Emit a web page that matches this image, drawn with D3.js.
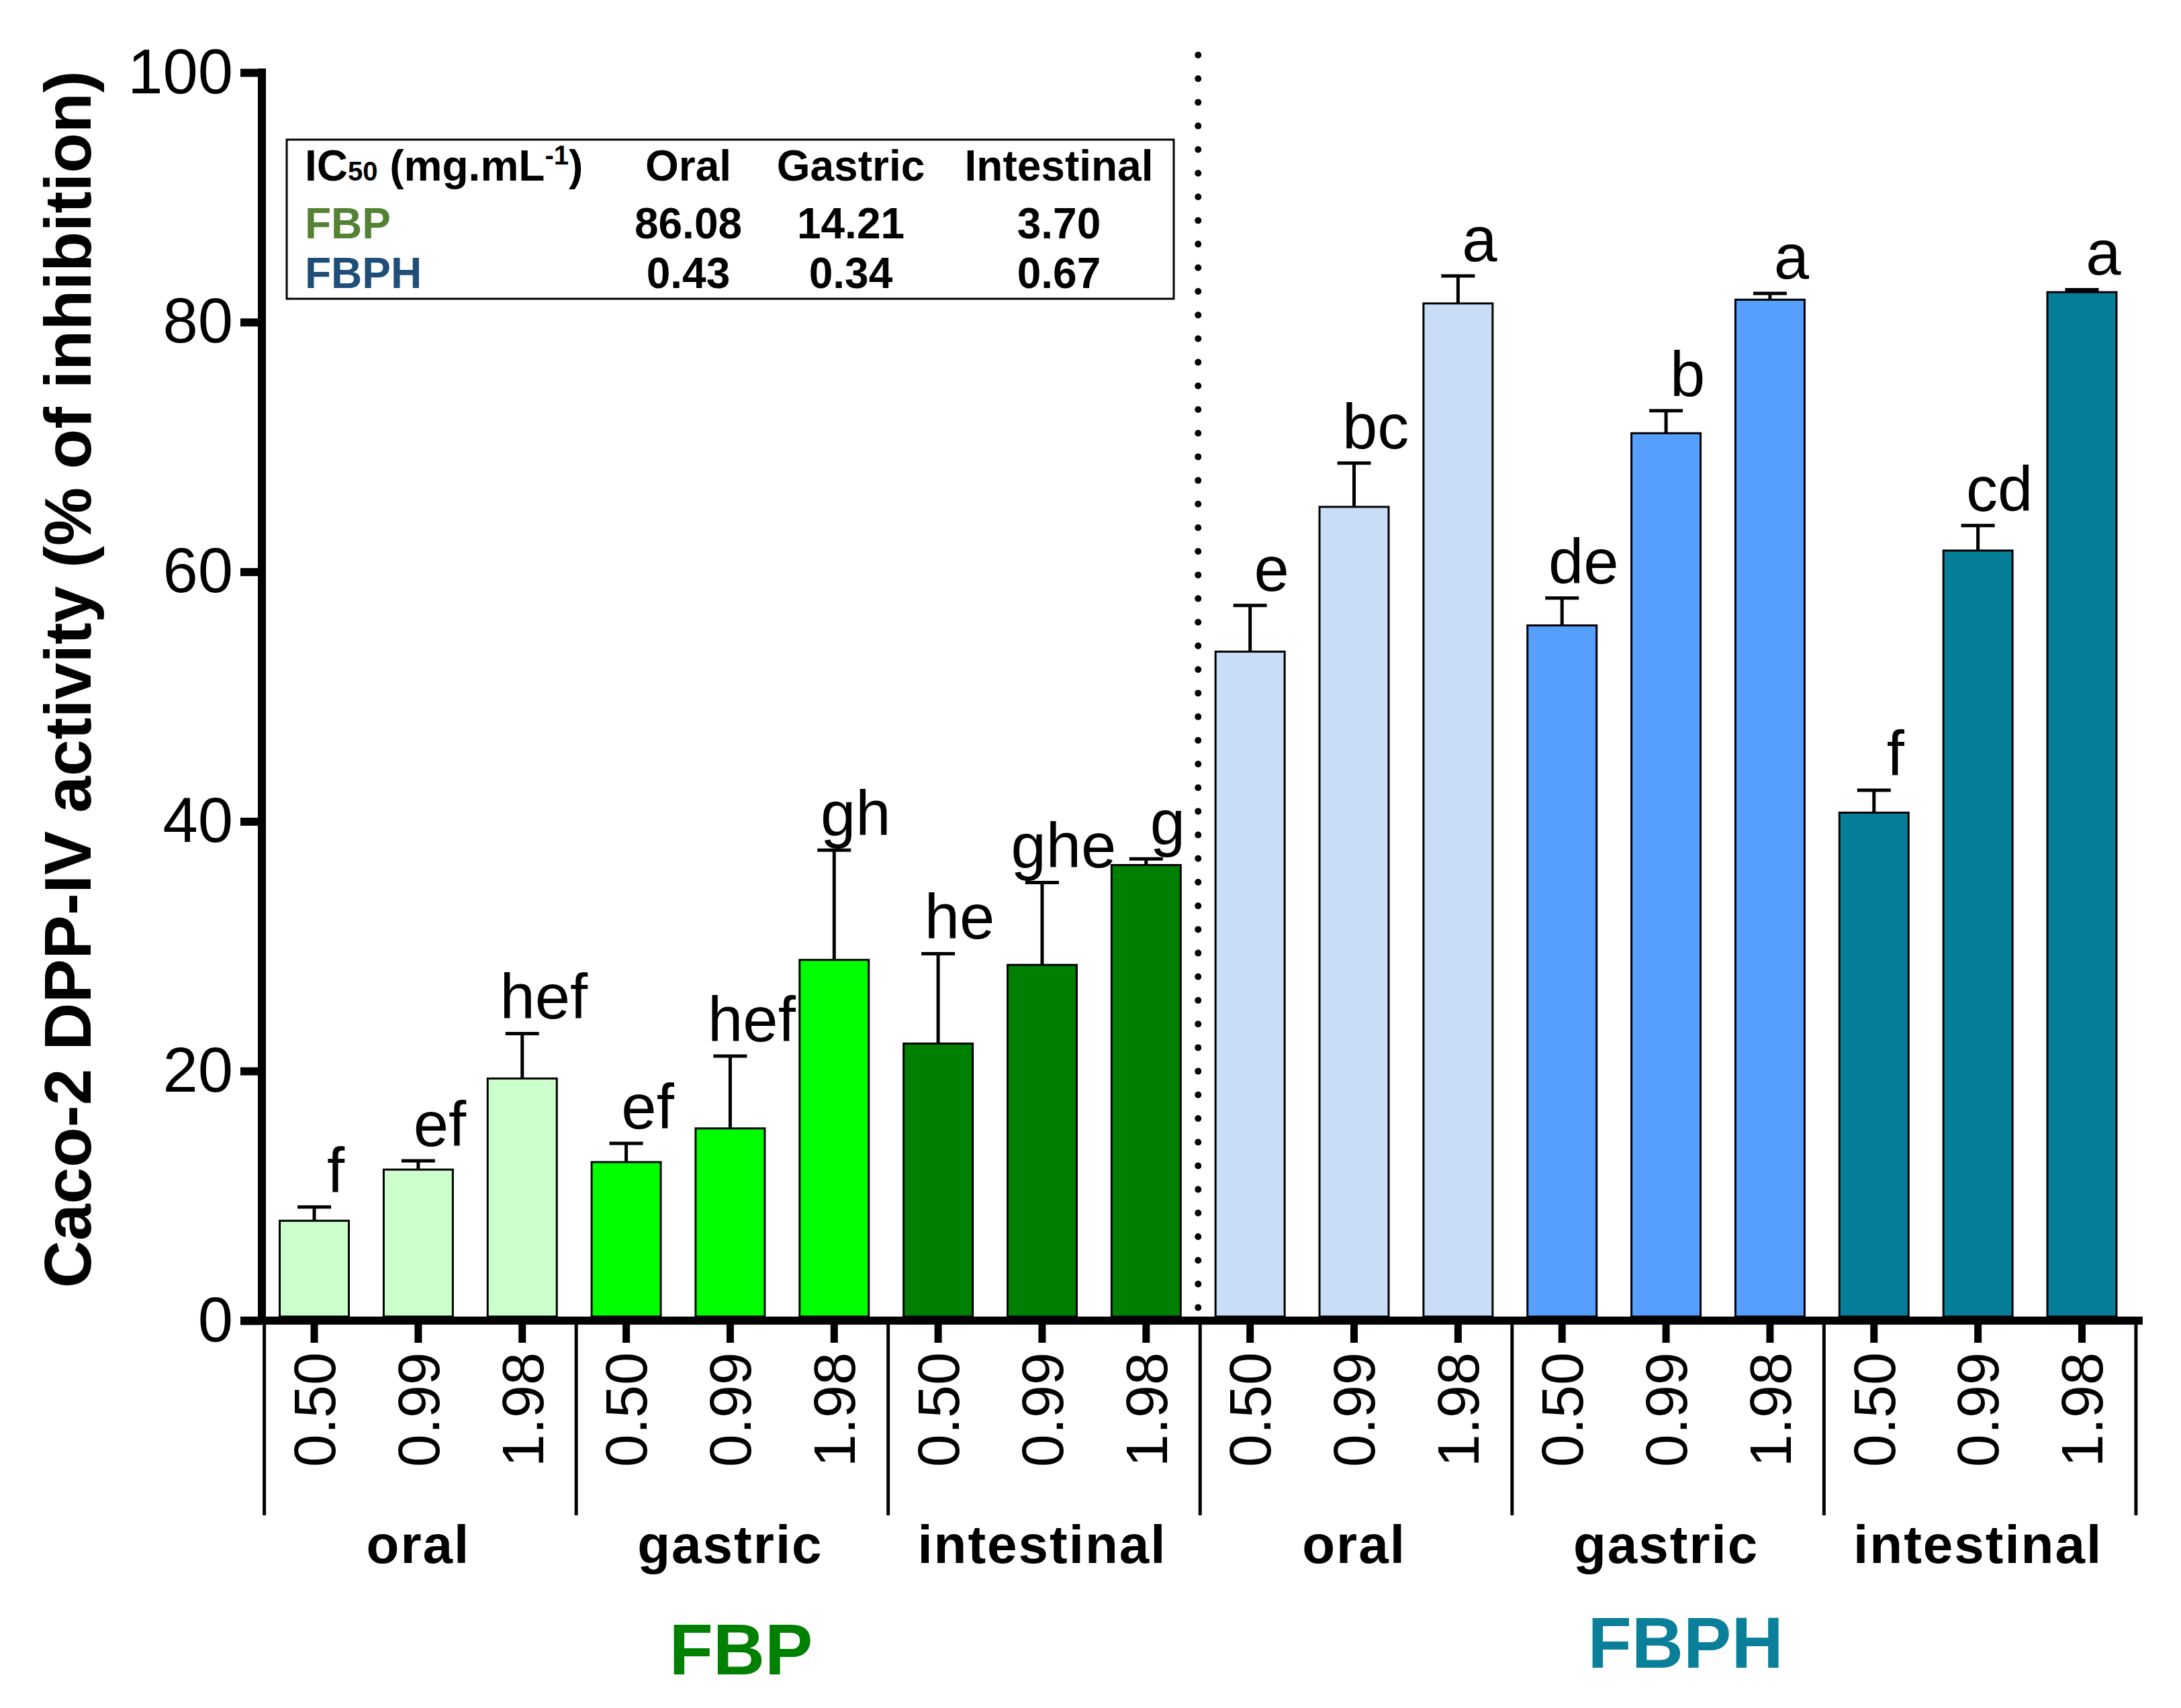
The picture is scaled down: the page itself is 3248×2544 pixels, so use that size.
<!DOCTYPE html>
<html>
<head>
<meta charset="utf-8">
<script src="https://cdn.jsdelivr.net/npm/d3@7"></script>
<style>
  html, body { margin: 0; padding: 0; background: #ffffff; }
  svg { display: block; }
  text { font-family: "Liberation Sans", Arial, Helvetica, sans-serif; }
</style>
</head>
<body>
<svg id="chart" width="3248" height="2544"></svg>
<script>
// ---------------- data ----------------
const samples = ["FBP", "FBPH"];
const stages = ["oral", "gastric", "intestinal"];
const doses = ["0.50", "0.99", "1.98"];

// mean % inhibition, order: sample > stage > dose
const means = [8.0, 12.1, 19.4, 12.7, 15.4, 28.9, 22.2, 28.5, 36.5,
               53.6, 65.2, 81.5, 55.7, 71.1, 81.8, 40.7, 61.7, 82.4];
// upper error (SD)
const errors = [1.1, 0.7, 3.6, 1.5, 5.8, 8.8, 7.2, 6.6, 0.5,
                3.7, 3.5, 2.2, 2.2, 1.8, 0.5, 1.8, 2.0, 0.2];
// significance letters
const letters = ["f", "ef", "hef", "ef", "hef", "gh", "he", "ghe", "g",
                 "e", "bc", "a", "de", "b", "a", "f", "cd", "a"];

const yTicks = [0, 20, 40, 60, 80, 100];

// IC50 table
const tableCols = ["Oral", "Gastric", "Intestinal"];
const ic50FBP = ["86.08", "14.21", "3.70"];
const ic50FBPH = ["0.43", "0.34", "0.67"];

// ---------------- styles ----------------
const stageColors = {
  FBP:  ["#CCFFCC", "#00FF00", "#008000"],
  FBPH: ["#C9DDF6", "#569FFC", "#077E98"]
};
const sampleTextColors = { FBP: "#008000", FBPH: "#0A7F99" };
const tableRowColors = { FBP: "#548235", FBPH: "#1F4E79" };

// ---------------- build rows ----------------
const rows = [];
samples.forEach(s => stages.forEach(st => doses.forEach(d => {
  const i = rows.length;
  rows.push({ i, sample: s, stage: st, dose: d, mean: means[i], err: errors[i], letter: letters[i],
              fill: stageColors[s][stages.indexOf(st)] });
})));

// ---------------- layout ----------------
const svg = d3.select("#chart");
const x = d3.scaleBand()
  .domain(rows.map(r => r.i))
  .range([390.6, 3177.9])
  .paddingInner(0.335)
  .paddingOuter(0.335 / 2);
const y = d3.scaleLinear().domain([0, 100]).range([1967, 108]);
const step = x.step();
const cx = i => x(i) + x.bandwidth() / 2;

// dotted separator between samples
const sepX = (cx(8) + cx(9)) / 2;
svg.append("line")
  .attr("x1", sepX).attr("x2", sepX)
  .attr("y1", 82).attr("y2", 1955)
  .attr("stroke", "#000").attr("stroke-width", 10)
  .attr("stroke-linecap", "round")
  .attr("stroke-dasharray", "0 35.2");

// bars
svg.append("g").selectAll("rect").data(rows).join("rect")
  .attr("x", d => x(d.i))
  .attr("y", d => y(d.mean))
  .attr("width", x.bandwidth())
  .attr("height", d => y(0) - 6 - y(d.mean))
  .attr("fill", d => d.fill)
  .attr("stroke", "#000")
  .attr("stroke-width", 3);

// error bars (upper only)
const eg = svg.append("g").attr("stroke", "#000").attr("stroke-width", 5);
eg.selectAll("line.v").data(rows).join("line").attr("class", "v")
  .attr("x1", d => cx(d.i)).attr("x2", d => cx(d.i))
  .attr("y1", d => y(d.mean)).attr("y2", d => y(d.mean + d.err));
eg.selectAll("line.c").data(rows).join("line").attr("class", "c")
  .attr("x1", d => cx(d.i) - 25).attr("x2", d => cx(d.i) + 25)
  .attr("y1", d => y(d.mean + d.err)).attr("y2", d => y(d.mean + d.err));

// letters
svg.append("g").selectAll("text").data(rows).join("text")
  .attr("x", d => cx(d.i) + 32)
  .attr("y", d => y(d.mean + d.err) - 22)
  .attr("text-anchor", "middle")
  .attr("font-size", 94)
  .attr("fill", "#000")
  .text(d => d.letter);

// y axis
const yAxis = svg.append("g").attr("transform", "translate(390,0)")
  .call(d3.axisLeft(y).tickValues(yTicks).tickSize(32).tickSizeOuter(0).tickPadding(11));
yAxis.select(".domain").attr("stroke", "#000").attr("stroke-width", 12)
  .attr("d", `M0,${y(100) - 6}V${y(0) + 6}`);
yAxis.selectAll(".tick line").attr("stroke", "#000").attr("stroke-width", 12);
yAxis.selectAll(".tick text").attr("font-size", 94).attr("fill", "#000")
  .attr("font-family", "Liberation Sans, Arial, sans-serif");

// x axis
const xAxis = svg.append("g").attr("transform", `translate(0,${y(0)})`)
  .call(d3.axisBottom(x).tickSize(33).tickSizeOuter(0).tickPadding(0)
        .tickFormat(i => rows[i].dose));
xAxis.select(".domain").remove();
xAxis.selectAll(".tick line").attr("stroke", "#000").attr("stroke-width", 11);
xAxis.selectAll(".tick text")
  .attr("font-size", 88).attr("fill", "#000")
  .attr("font-family", "Liberation Sans, Arial, sans-serif")
  .attr("text-anchor", "end")
  .attr("transform", "translate(0,47) rotate(-90)")
  .attr("x", 0).attr("y", 0).attr("dy", "0.35em");
xAxis.append("line")
  .attr("x1", 358).attr("x2", x.range()[1] + 13)
  .attr("y1", 0).attr("y2", 0)
  .attr("stroke", "#000").attr("stroke-width", 12);

// group separator lines
const groupBounds = d3.range(0, 7).map(k => x.range()[0] + 3 * k * step + 3);
svg.append("g").selectAll("line").data(groupBounds).join("line")
  .attr("x1", d => d).attr("x2", d => d)
  .attr("y1", y(0) + 6).attr("y2", 2257)
  .attr("stroke", "#000").attr("stroke-width", 5);

// stage labels
const groups = [];
samples.forEach((s, si) => stages.forEach((st, ti) => groups.push({ s, st, mid: cx(si * 9 + ti * 3 + 1) })));
svg.append("g").selectAll("text").data(groups).join("text")
  .attr("x", d => d.mid)
  .attr("y", 2328)
  .attr("text-anchor", "middle")
  .attr("font-size", 80).attr("font-weight", "bold")
  .attr("letter-spacing", 2)
  .attr("fill", "#000")
  .text(d => d.st);

// sample labels
svg.append("g").selectAll("text").data(samples).join("text")
  .attr("x", (s, si) => cx(si * 9 + 4) + (si === 0 ? 16 : 29))
  .attr("y", (s, si) => si === 0 ? 2494 : 2484)
  .attr("text-anchor", "middle")
  .attr("font-size", 107).attr("font-weight", "bold")
  .attr("fill", s => sampleTextColors[s])
  .text(s => s);

// y title
svg.append("text")
  .attr("transform", "translate(135,1012) rotate(-90)")
  .attr("text-anchor", "middle")
  .attr("font-size", 98).attr("font-weight", "bold")
  .attr("fill", "#000")
  .text("Caco-2 DPP-IV activity (% of inhibition)");

// IC50 table
const tbl = svg.append("g");
tbl.append("rect").attr("x", 427).attr("y", 208).attr("width", 1321).attr("height", 237)
  .attr("fill", "#fff").attr("stroke", "#000").attr("stroke-width", 3);
const colX = d3.scalePoint().domain(tableCols).range([1025, 1577]);
const colPos = c => c === "Gastric" ? 1267 : colX(c);
const head = tbl.append("text").attr("x", 454).attr("y", 269)
  .attr("font-size", 64).attr("font-weight", "bold").attr("fill", "#000");
head.append("tspan").text("IC");
head.append("tspan").attr("font-size", 40).text("50");
head.append("tspan").text(" (mg.mL");
head.append("tspan").attr("font-size", 40).attr("dy", -24).text("-1");
head.append("tspan").attr("dy", 24).text(")");
tbl.selectAll("text.col").data(tableCols).join("text").attr("class", "col")
  .attr("x", c => colPos(c)).attr("y", 269)
  .attr("text-anchor", "middle").attr("font-size", 64).attr("font-weight", "bold")
  .attr("fill", "#000").text(c => c);
const tableRows = [{ s: "FBP", vals: ic50FBP, yb: 355 }, { s: "FBPH", vals: ic50FBPH, yb: 429 }];
tableRows.forEach(r => {
  tbl.append("text").attr("x", 454).attr("y", r.yb)
    .attr("font-size", 64).attr("font-weight", "bold")
    .attr("fill", tableRowColors[r.s]).text(r.s);
  tbl.selectAll(null).data(r.vals).join("text")
    .attr("x", (v, k) => colPos(tableCols[k])).attr("y", r.yb)
    .attr("text-anchor", "middle").attr("font-size", 64).attr("font-weight", "bold")
    .attr("fill", "#000").text(v => v);
});
</script>
</body>
</html>
